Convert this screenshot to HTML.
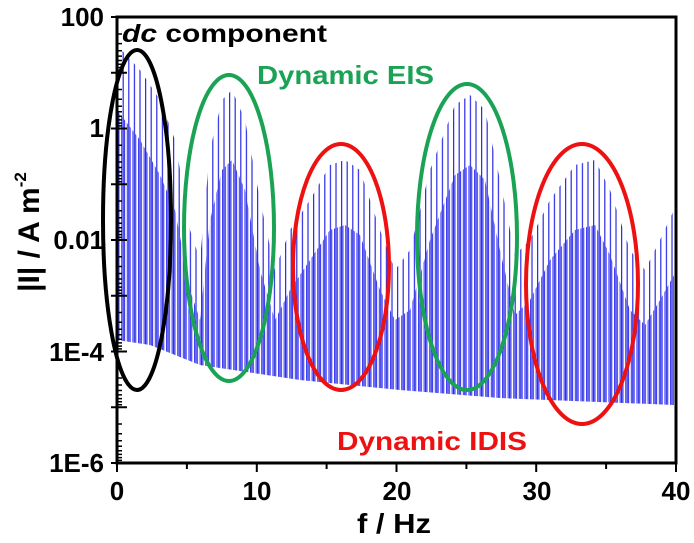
<!DOCTYPE html><html><head><style>body{margin:0;background:#fff}svg{display:block;font-family:"Liberation Sans",Arial,sans-serif;font-weight:bold}</style></head><body>
<svg width="694" height="543" viewBox="0 0 694 543">
<defs>
<pattern id="sp" width="5.6" height="10" patternUnits="userSpaceOnUse" x="117"><rect x="0" y="0" width="1.2" height="10" fill="#2a2ae6"/></pattern>
<pattern id="dn" width="2.8" height="10" patternUnits="userSpaceOnUse" x="118.4"><rect x="0" y="0" width="1.1" height="10" fill="#3a3af0"/></pattern>
<clipPath id="c1"><polygon points="117,45 140,70 160,100 175,140 190,230 200,260 210,150 222,100 232,90 245,120 260,200 275,270 290,230 310,200 330,165 345,160 360,170 380,230 395,270 410,250 430,170 455,105 470,95 485,110 500,180 515,255 530,240 550,200 575,165 595,160 610,190 630,250 645,270 660,240 674,210 674,405 500,398 400,390 300,380 200,365 150,345 117,340"/></clipPath>
<clipPath id="c2"><polygon points="117,110 140,140 160,175 175,210 190,290 200,320 210,220 222,170 232,160 245,190 260,270 275,320 290,290 310,260 330,230 345,225 360,235 380,290 395,320 410,310 430,240 455,175 470,165 485,180 500,250 515,315 530,300 550,260 575,230 595,225 610,255 630,310 645,325 660,300 674,275 674,405 500,398 400,390 300,380 200,365 150,345 117,340"/></clipPath>
</defs>
<rect x="117" y="17" width="559" height="446" fill="url(#sp)" clip-path="url(#c1)"/>
<rect x="117" y="17" width="559" height="446" fill="url(#dn)" clip-path="url(#c2)"/>
<g fill="none" stroke-width="4">
<ellipse cx="137" cy="220" rx="34" ry="170" stroke="#000"/>
<ellipse cx="229" cy="228" rx="45" ry="153" stroke="#1aa255"/>
<ellipse cx="341" cy="267" rx="48" ry="123" stroke="#ee1111"/>
<ellipse cx="467" cy="237" rx="50" ry="153" stroke="#1aa255"/>
<ellipse cx="582" cy="284" rx="56" ry="140" stroke="#ee1111"/>
</g>
<rect x="117" y="17" width="559" height="446" stroke="#000" stroke-width="3" fill="none"/>
<g stroke="#000" stroke-width="2">
<path d="M111 17h16M111 72.75h16M111 128.5h16M111 184.25h16M111 240h16M111 295.75h16M111 351.5h16M111 407.25h16M111 463h6"/>
<path stroke-width="1.5" d="M117 34h5M117 43.6h5M117 50.7h5M117 56.1h5M117 60.5h5M117 64.2h5M117 67.5h5M117 70.2h5M117 89.5h5M117 99.3h5M117 106.3h5M117 111.8h5M117 116.2h5M117 119.9h5M117 123.1h5M117 125.9h5M117 145.3h5M117 155h5M117 162h5M117 167.5h5M117 171.9h5M117 175.6h5M117 178.8h5M117 181.7h5M117 201h5M117 210.8h5M117 217.8h5M117 223.2h5M117 227.7h5M117 231.4h5M117 234.6h5M117 237.4h5M117 256.8h5M117 266.5h5M117 273.5h5M117 279h5M117 283.4h5M117 287.1h5M117 290.3h5M117 293.2h5M117 312.5h5M117 322.3h5M117 329.3h5M117 334.7h5M117 339.2h5M117 342.9h5M117 346.1h5M117 348.9h5M117 368.3h5M117 378h5M117 385h5M117 390.5h5M117 394.9h5M117 398.6h5M117 401.8h5M117 404.7h5M117 424h5M117 433.8h5M117 440.8h5M117 446.2h5M117 450.7h5M117 454.4h5M117 457.6h5M117 460.4h5"/>
<path d="M117 463v9M186.9 463v6M256.8 463v9M326.6 463v6M396.5 463v9M466.4 463v6M536.2 463v9M606.1 463v6M676 463v9"/>
</g>
<g font-size="26" text-anchor="end">
<text x="104" y="26">100</text><text x="104" y="137">1</text><text x="104" y="249">0.01</text><text x="104" y="361">1E-4</text><text x="104" y="472">1E-6</text></g>
<g font-size="26" text-anchor="middle">
<text x="117" y="500">0</text><text x="257" y="500">10</text><text x="397" y="500">20</text><text x="537" y="500">30</text><text x="676" y="500">40</text></g>
<text x="357" y="533" font-size="28" textLength="74" lengthAdjust="spacingAndGlyphs">f / Hz</text>
<text transform="translate(39,232) rotate(-90)" font-size="30" text-anchor="middle">|I| / A m<tspan font-size="17" dy="-13">-2</tspan></text>
<text x="122" y="42" font-size="25" textLength="205" lengthAdjust="spacingAndGlyphs"><tspan font-style="italic">dc</tspan> component</text>
<text x="257" y="84" font-size="26" fill="#1aa255" textLength="177" lengthAdjust="spacingAndGlyphs">Dynamic EIS</text>
<text x="337" y="450" font-size="26" fill="#ee1111" textLength="190" lengthAdjust="spacingAndGlyphs">Dynamic IDIS</text>
</svg>
</body></html>
